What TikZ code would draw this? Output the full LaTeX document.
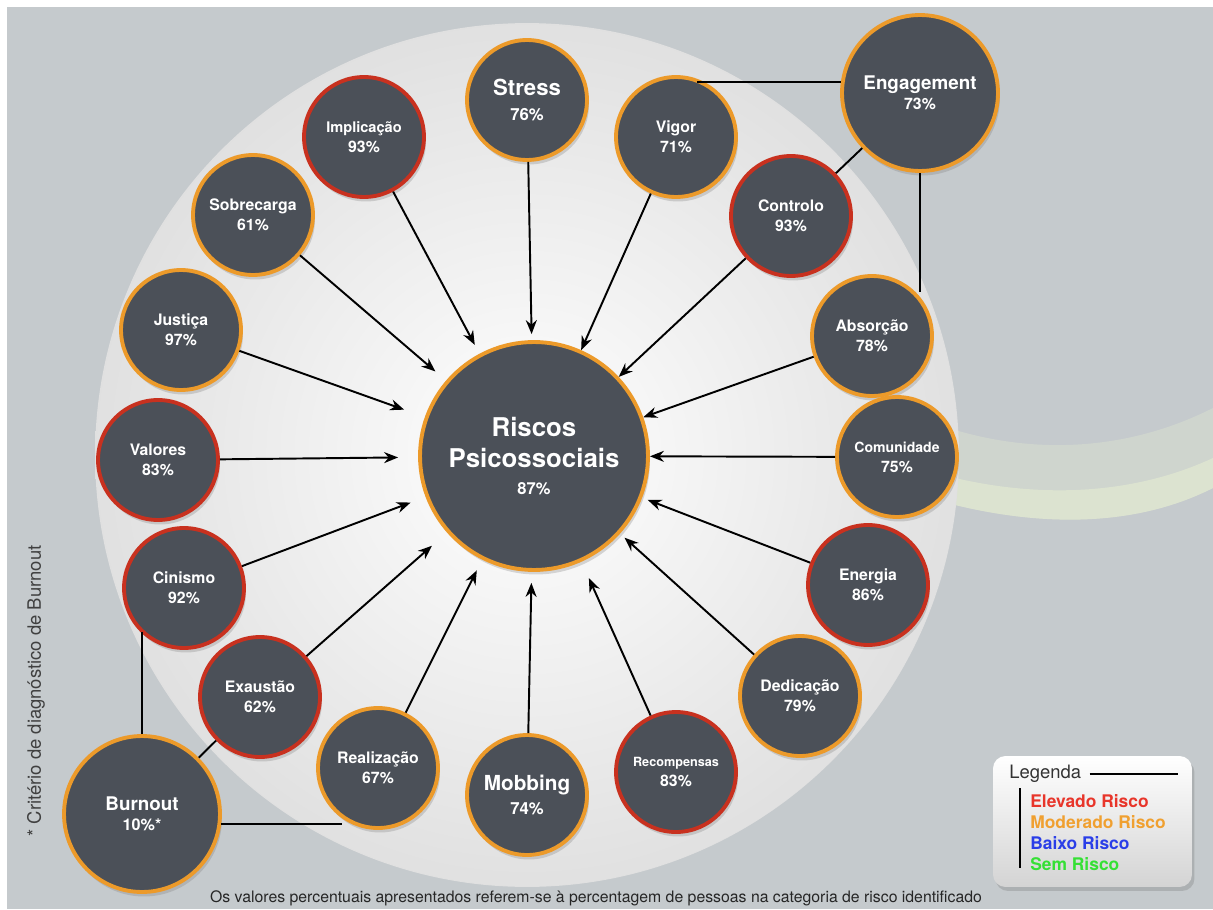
\documentclass[tikz,border=0pt]{standalone}
\usepackage{fontspec}
\setmainfont{TeX Gyre Heros}
\usetikzlibrary{arrows.meta,shadows}
\definecolor{fundo}{HTML}{C5CACD}
\definecolor{ardosia}{HTML}{4B5058}
\definecolor{laranja}{HTML}{EC9A2A}
\definecolor{vermelho}{HTML}{C8311F}
\definecolor{verdeclaro}{HTML}{E8F0D2}
\definecolor{legvermelho}{HTML}{E8352A}
\definecolor{leglaranja}{HTML}{F0A030}
\definecolor{legazul}{HTML}{2A3EE8}
\definecolor{legverde}{HTML}{35E035}
\begin{document}
\begin{tikzpicture}[x=0.02cm,y=-0.02cm,
  no/.style={circle,fill=ardosia,draw=laranja,line width=2.2pt,text=white,align=center,inner sep=0pt,
    minimum size=2.4cm,font=\bfseries\fontsize{9}{11.3}\selectfont,
    drop shadow={opacity=0.3,shadow xshift=0.4mm,shadow yshift=-0.9mm}},
  elevado/.style={no,draw=vermelho},
  grande/.style={minimum size=3.12cm,font=\bfseries\fontsize{10.7}{11.5}\selectfont},
  seta/.style={-{Stealth[length=2.8mm,width=2.2mm]},line width=1.1pt},
  liga/.style={line width=1.1pt},
  item/.style={anchor=base west,inner sep=0pt,font=\bfseries\fontsize{9.9}{11}\selectfont}]
% fundo
\useasboundingbox (0,0) rectangle (1213,909);
\fill[fundo] (7,7) rectangle (1213,909);
\fill[verdeclaro,fill opacity=0.3] (955,430) .. controls (1050,458) and (1140,445) .. (1213,408)
  -- (1213,488) .. controls (1140,525) and (1050,528) .. (955,505) -- cycle;
\fill[verdeclaro,fill opacity=0.55] (955,478) .. controls (1050,500) and (1140,492) .. (1213,458)
  -- (1213,488) .. controls (1140,525) and (1050,528) .. (955,505) -- cycle;
\shade[inner color=white,outer color=black!12] (527,455) circle [radius=8.64cm];

% nos
\node[no,minimum size=4.56cm,font=\bfseries\fontsize{14.7}{17.6}\selectfont] (centro) at (534,456)
  {Riscos\\Psicossociais\\[-2pt]{\fontsize{9.4}{11}\selectfont 87\%}};
\node[no,font=\bfseries\fontsize{12.6}{14}\selectfont] (stress) at (527,100) {Stress\\{\fontsize{9.5}{11}\selectfont 76\%}};
\node[elevado,font=\bfseries\fontsize{8.3}{11.3}\selectfont] (implicacao) at (364,137) {Implicação\\{\fontsize{9}{11}\selectfont 93\%}};
\node[no] (vigor) at (676,137) {Vigor\\71\%};
\node[no,grande] (engagement) at (920,93) {Engagement\\{\fontsize{9}{11}\selectfont 73\%}};
\node[no] (sobrecarga) at (253,215) {Sobrecarga\\61\%};
\node[elevado] (controlo) at (791,216) {Controlo\\93\%};
\node[no] (justica) at (181,330) {Justiça\\97\%};
\node[no] (absorcao) at (872,336) {Absorção\\78\%};
\node[elevado] (valores) at (158,460) {Valores\\83\%};
\node[no,font=\bfseries\fontsize{8}{11.3}\selectfont] (comunidade) at (897,457) {Comunidade\\{\fontsize{9}{11}\selectfont 75\%}};
\node[elevado] (cinismo) at (184,588) {Cinismo\\92\%};
\node[elevado] (energia) at (868,585) {Energia\\86\%};
\node[elevado] (exaustao) at (260,697) {Exaustão\\62\%};
\node[no] (dedicacao) at (800,696) {Dedicação\\79\%};
\node[no,grande] (burnout) at (142,814) {Burnout\\{\fontsize{9.2}{11}\selectfont 10\%*}};
\node[no] (realizacao) at (378,768) {Realização\\67\%};
\node[no,font=\bfseries\fontsize{11.8}{13.5}\selectfont] (mobbing) at (527,795) {Mobbing\\{\fontsize{9.5}{11}\selectfont 74\%}};
\node[elevado,font=\bfseries\fontsize{7.2}{11.3}\selectfont] (recompensas) at (676,772) {Recompensas\\{\fontsize{9}{11}\selectfont 83\%}};

% setas para o centro
\draw[seta,shorten >=0.12cm] (stress) -- (centro);
\draw[seta,shorten >=0.2cm] (implicacao) -- (centro);
\draw[seta] (vigor) -- (centro);
\draw[seta] (controlo) -- (centro);
\draw[seta,shorten >=0.28cm] (sobrecarga) -- (centro);
\draw[seta,shorten >=0.44cm] (justica) -- (centro);
\draw[seta] (absorcao) -- (centro);
\draw[seta,shorten >=0.4cm] (valores) -- (centro);
\draw[seta] (comunidade) -- (centro);
\draw[seta,shorten >=0.32cm] (cinismo) -- (centro);
\draw[seta,shorten >=0.12cm] (energia) -- (centro);
\draw[seta,shorten >=0.4cm] (exaustao) -- (centro);
\draw[seta,shorten >=0.12cm] (dedicacao) -- (centro);
\draw[seta,shorten >=0.24cm] (realizacao) -- (centro);
\draw[seta,shorten >=0.22cm] (mobbing) -- (centro);
\draw[seta,shorten >=0.36cm] (recompensas) -- (centro);

% ligacoes
\draw[liga] (engagement.172) -- (engagement.172 -| vigor.70);
\draw[liga] (engagement) -- (controlo);
\draw[liga] (engagement.south) -- (engagement.south |- absorcao.45);
\draw[liga] (burnout.north) -- (burnout.north |- cinismo.225);
\draw[liga] (burnout) -- (exaustao);
\draw[liga] (burnout.-7) -- (burnout.-7 -| realizacao.235);

% legenda
\node[draw=none,rounded corners=0.25cm,top color=white,bottom color=black!17,minimum width=3.98cm,minimum height=2.62cm,
  drop shadow={opacity=0.35,shadow xshift=0.5mm,shadow yshift=-0.8mm}] (caixa) at (1092.5,821.5) {};
\node[anchor=base west,inner sep=0pt,text=black!80,font=\fontsize{10.5}{12}\selectfont] (legenda) at (1009,778) {Legenda};
\coordinate (legfim) at (1178,774);
\draw[line width=1pt] (legenda.east |- legfim) ++(8,0) -- (legfim);
\coordinate (barratopo) at (1020,788);
\coordinate (barrabase) at (1020,868);
\draw[line width=1.1pt] (barratopo) -- (barrabase);
\node[item,text=legvermelho] (elevado) at (1030,807) {Elevado Risco};
\node[item,text=leglaranja] (moderado) at (1030,828) {Moderado Risco};
\node[item,text=legazul] (baixo) at (1030,849) {Baixo Risco};
\node[item,text=legverde] (sem) at (1030,870) {Sem Risco};

% textos
\node[rotate=90,text=black!75,font=\fontsize{10.5}{12}\selectfont] (criterio) at (36,691) {* Critério de diagnóstico de Burnout};
\node[anchor=base,inner sep=0pt,text=black!85,font=\fontsize{9}{11}\selectfont] (nota) at (596,902)
  {Os valores percentuais apresentados referem-se à percentagem de pessoas na categoria de risco identificado};
\end{tikzpicture}
\end{document}
